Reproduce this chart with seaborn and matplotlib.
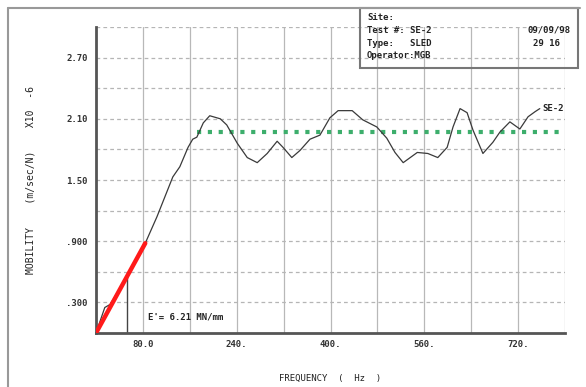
import numpy as np
import pandas as pd
import matplotlib
matplotlib.use("Agg")
import matplotlib.pyplot as plt
import seaborn as sns
from matplotlib.patches import Rectangle

# mobility curve
freq = [0, 15, 24, 55, 84, 104, 131, 143, 157, 165, 172, 183, 194, 212, 223, 241,
        258, 275, 292, 309, 319, 334, 348, 365, 382, 399, 413, 437, 455, 479, 496,
        510, 524, 548, 566, 583, 599, 609, 621, 633, 643, 660, 677, 689, 706, 723,
        737, 749, 757]
mobility = [0.0, 0.25, 0.28, 0.57, 0.88, 1.14, 1.53, 1.63, 1.82, 1.90, 1.92, 2.06,
            2.13, 2.10, 2.04, 1.86, 1.72, 1.67, 1.76, 1.88, 1.82, 1.72, 1.79, 1.90,
            1.94, 2.11, 2.18, 2.18, 2.09, 2.02, 1.91, 1.77, 1.67, 1.77, 1.76, 1.72,
            1.82, 2.02, 2.20, 2.16, 1.99, 1.76, 1.87, 1.97, 2.07, 2.00, 2.12, 2.17, 2.20]

fit_x = [0, 84]          # initial slope (stiffness fit)
fit_y = [0.0, 0.88]
mark_x = [53, 53]
mark_y = [0.0, 0.56]
mean_x = [172, 800]      # mean mobility
mean_y = [1.97, 1.97]

xticks = [80, 240, 400, 560, 720]
xlabels = ["80.0", "240.", "400.", "560.", "720."]
yticks = [0.3, 0.9, 1.5, 2.1, 2.7]
ylabels = [".300", ".900", "1.50", "2.10", "2.70"]

sns.set_style("white")
plt.rcParams['font.family'] = ['DejaVu Sans Mono']
plt.rcParams['font.weight'] = 'bold'

fig = plt.figure(figsize=(5.86, 3.87), dpi=100)
ax = fig.add_axes([96/586, 1 - 333/387, (565 - 96)/586, (333 - 27)/387])

df = pd.DataFrame({"f": freq, "m": mobility})
sns.lineplot(data=df, x="f", y="m", sort=False, estimator=None, color="#3a3a3a",
             lw=0.9, ax=ax, zorder=3)
sns.lineplot(x=mean_x, y=mean_y, color="#3dae6c", lw=3, ls=(0, (1, 1.6)), ax=ax, zorder=2)
sns.lineplot(x=fit_x, y=fit_y, color="#ff1a1a", lw=3.2, ax=ax, zorder=4)
ax.plot(mark_x, mark_y, color="#444444", lw=1.0, zorder=2)

ax.set_xlim(0, 800)
ax.set_ylim(0, 3.0)
ax.set_xticks(np.arange(0, 801, 80))
ax.set_xticklabels([xlabels[xticks.index(v)] if v in xticks else "" for v in np.arange(0, 801, 80)])
yt = np.round(np.arange(0, 3.01, 0.3), 2)
ax.set_yticks(yt)
ax.set_yticklabels([ylabels[yticks.index(v)] if v in yticks else "" for v in yt])
ax.tick_params(axis="both", direction="in", length=3, width=1, labelsize=6.5,
               colors="#333333", pad=6)
ax.tick_params(axis="x", length=0, pad=5)

for v in np.arange(80, 801, 80):
    ax.axvline(v, color="#b8b8b8", lw=0.9, zorder=1)
for v in yt[1:]:
    ax.axhline(v, color="#b5b5b5", lw=0.9, ls=(0, (3, 2.5)), zorder=1)

for s in ["top", "right"]:
    ax.spines[s].set_visible(False)
for s in ["left", "bottom"]:
    ax.spines[s].set_linewidth(2)
    ax.spines[s].set_color("#555555")

ax.set_xlabel("FREQUENCY  (  Hz  )", fontsize=6.5, labelpad=18, color="#222222")
ax.set_ylabel("MOBILITY    (m/sec/N)    X10  -6", fontsize=7, labelpad=22, color="#222222")

ax.text(89, 0.16, "E'= 6.21 MN/mm", fontsize=6.5, color="#222222", va="center")
ax.text(762, 2.2, "SE-2", fontsize=6.5, color="#222222", va="center")

# outer frame and header box
fig.add_artist(plt.Line2D([8/586, 8/586], [0, 1 - 8/387], color="#999999", lw=1.5))
fig.add_artist(plt.Line2D([8/586, 580/586], [1 - 8/387, 1 - 8/387], color="#999999", lw=1.5))
fig.add_artist(Rectangle((360/586, 1 - 68/387), (578 - 360)/586, 60/387,
                         fill=False, ec="#777777", lw=1.5))
hdr = ["Site:", "Test #: SE-2", "Type:   SLED", "Operator:MGB"]
for i, t in enumerate(hdr):
    fig.text(367/586, 1 - (18 + i * 12.5)/387, t, fontsize=6.5, va="center", color="#222222")
fig.text(570/586, 1 - 30/387, "09/09/98", fontsize=6.5, va="center", ha="right", color="#222222")
fig.text(560/586, 1 - 43/387, "29 16", fontsize=6.5, va="center", ha="right", color="#222222")

fig.savefig("out.png", dpi=100)
